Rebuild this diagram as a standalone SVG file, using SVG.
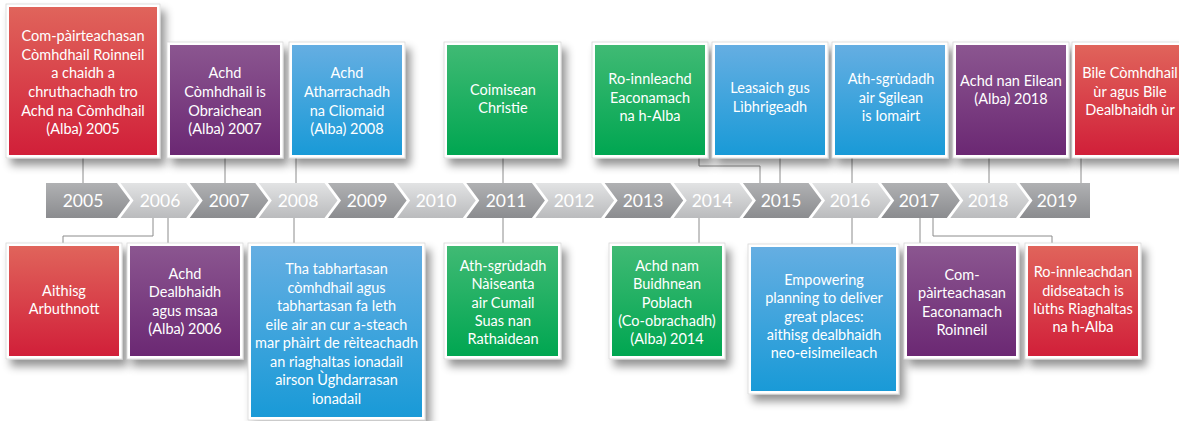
<svg xmlns="http://www.w3.org/2000/svg" width="1179" height="421" viewBox="0 0 1179 421">
<defs>
<linearGradient id="gRed" x1="0" y1="0" x2="0" y2="1"><stop offset="0" stop-color="#e0645b"/><stop offset="1" stop-color="#d11f39"/></linearGradient>
<linearGradient id="gPur" x1="0" y1="0" x2="0" y2="1"><stop offset="0" stop-color="#8b5690"/><stop offset="1" stop-color="#6b2873"/></linearGradient>
<linearGradient id="gBlu" x1="0" y1="0" x2="0" y2="1"><stop offset="0" stop-color="#65aee2"/><stop offset="1" stop-color="#199ad7"/></linearGradient>
<linearGradient id="gGrn" x1="0" y1="0" x2="0" y2="1"><stop offset="0" stop-color="#40ba74"/><stop offset="1" stop-color="#00a651"/></linearGradient>
<linearGradient id="gDark" x1="0" y1="0" x2="0" y2="1"><stop offset="0" stop-color="#b0b1b3"/><stop offset="1" stop-color="#8b8c8f"/></linearGradient>
<linearGradient id="gLight" x1="0" y1="0" x2="0" y2="1"><stop offset="0" stop-color="#e2e3e4"/><stop offset="1" stop-color="#babbbd"/></linearGradient>
<filter id="sh" x="-20%" y="-20%" width="150%" height="150%"><feDropShadow dx="5" dy="7" stdDeviation="4.5" flood-color="#000" flood-opacity="0.42"/></filter>
</defs>
<style>
.frame{fill:#ffffff;stroke:#d8d8d8;stroke-width:0.8;filter:url(#sh)}
.t{font-family:"Lato","Liberation Sans",sans-serif;font-size:14.5px;fill:#ffffff;text-anchor:middle}
.y{font-family:"Lato","Liberation Sans",sans-serif;font-size:17.5px;fill:#ffffff;text-anchor:middle}
.c{fill:none;stroke:#8c8c8c;stroke-width:1}
.dk{fill:url(#gDark)}
.lt{fill:url(#gLight)}
</style>

<g id="connectors">
<path class="c" d="M83 158V183"/>
<path class="c" d="M225 158V183"/>
<path class="c" d="M296 158V183"/>
<path class="c" d="M503 158V183"/>
<path class="c" d="M699 158V166H760V183"/>
<path class="c" d="M780 158V183"/>
<path class="c" d="M852 158V183"/>
<path class="c" d="M989 158V183"/>
<path class="c" d="M1081 158V183"/>
<path class="c" d="M153 218V236H63V243"/>
<path class="c" d="M168 218V243"/>
<path class="c" d="M294 218V243"/>
<path class="c" d="M503 218V243"/>
<path class="c" d="M699 218V243"/>
<path class="c" d="M852 218V244"/>
<path class="c" d="M920 218V243"/>
<path class="c" d="M933 218V236H1052V243"/>
</g>

<g id="timeline">
<polygon class="dk" points="46,183 117,183 130,200.5 117,218 46,218"/>
<polygon class="lt" points="120.5,183 186.2,183 199.2,200.5 186.2,218 120.5,218 133.5,200.5"/>
<polygon class="dk" points="189.7,183 255.3,183 268.3,200.5 255.3,218 189.7,218 202.7,200.5"/>
<polygon class="lt" points="258.8,183 324.5,183 337.5,200.5 324.5,218 258.8,218 271.8,200.5"/>
<polygon class="dk" points="328,183 393.6,183 406.6,200.5 393.6,218 328,218 341,200.5"/>
<polygon class="lt" points="397.1,183 462.8,183 475.8,200.5 462.8,218 397.1,218 410.1,200.5"/>
<polygon class="dk" points="466.3,183 531.9,183 544.9,200.5 531.9,218 466.3,218 479.3,200.5"/>
<polygon class="lt" points="535.4,183 601.1,183 614.1,200.5 601.1,218 535.4,218 548.4,200.5"/>
<polygon class="dk" points="604.6,183 670.2,183 683.2,200.5 670.2,218 604.6,218 617.6,200.5"/>
<polygon class="lt" points="673.7,183 739.4,183 752.4,200.5 739.4,218 673.7,218 686.7,200.5"/>
<polygon class="dk" points="742.9,183 808.5,183 821.5,200.5 808.5,218 742.9,218 755.9,200.5"/>
<polygon class="lt" points="812,183 877.7,183 890.7,200.5 877.7,218 812,218 825,200.5"/>
<polygon class="dk" points="881.2,183 946.8,183 959.8,200.5 946.8,218 881.2,218 894.2,200.5"/>
<polygon class="lt" points="950.3,183 1016,183 1029,200.5 1016,218 950.3,218 963.3,200.5"/>
<polygon class="dk" points="1019.5,183 1090,183 1090,218 1019.5,218 1032.5,200.5"/>
<text class="y" x="83" y="207">2005</text>
<text class="y" x="160" y="207">2006</text>
<text class="y" x="229" y="207">2007</text>
<text class="y" x="298" y="207">2008</text>
<text class="y" x="367" y="207">2009</text>
<text class="y" x="436" y="207">2010</text>
<text class="y" x="506" y="207">2011</text>
<text class="y" x="574" y="207">2012</text>
<text class="y" x="643" y="207">2013</text>
<text class="y" x="712" y="207">2014</text>
<text class="y" x="781" y="207">2015</text>
<text class="y" x="850" y="207">2016</text>
<text class="y" x="919" y="207">2017</text>
<text class="y" x="988" y="207">2018</text>
<text class="y" x="1057" y="207">2019</text>
</g>

<g id="t2005">
<rect class="frame" x="6" y="4" width="154" height="154"/>
<rect x="9" y="7" width="148" height="148" fill="url(#gRed)"/>
<text class="t"><tspan x="83" y="41">Com-pàirteachasan</tspan><tspan x="83" y="60">Còmhdhail Roinneil</tspan><tspan x="83" y="78">a chaidh a</tspan><tspan x="83" y="97">chruthachadh tro</tspan><tspan x="83" y="116">Achd na Còmhdhail</tspan><tspan x="83" y="134">(Alba) 2005</tspan></text>
</g>
<g id="t2007">
<rect class="frame" x="167" y="42" width="116" height="116"/>
<rect x="170" y="45" width="110" height="110" fill="url(#gPur)"/>
<text class="t"><tspan x="225" y="78">Achd</tspan><tspan x="225" y="97">Còmhdhail is</tspan><tspan x="225" y="116">Obraichean</tspan><tspan x="225" y="134">(Alba) 2007</tspan></text>
</g>
<g id="t2008">
<rect class="frame" x="289" y="42" width="116" height="116"/>
<rect x="292" y="45" width="110" height="110" fill="url(#gBlu)"/>
<text class="t"><tspan x="347" y="78">Achd</tspan><tspan x="347" y="97">Atharrachadh</tspan><tspan x="347" y="116">na Cliomaid</tspan><tspan x="347" y="134">(Alba) 2008</tspan></text>
</g>
<g id="t2011">
<rect class="frame" x="444" y="42" width="117" height="116"/>
<rect x="447" y="45" width="111" height="110" fill="url(#gGrn)"/>
<text class="t"><tspan x="503" y="95">Coimisean</tspan><tspan x="503" y="113">Christie</tspan></text>
</g>
<g id="t2014">
<rect class="frame" x="592" y="42" width="116" height="116"/>
<rect x="595" y="45" width="110" height="110" fill="url(#gGrn)"/>
<text class="t"><tspan x="650" y="84">Ro-innleachd</tspan><tspan x="650" y="103">Eaconamach</tspan><tspan x="650" y="121">na h-Alba</tspan></text>
</g>
<g id="t2015">
<rect class="frame" x="712" y="42" width="116" height="116"/>
<rect x="715" y="45" width="110" height="110" fill="url(#gBlu)"/>
<text class="t"><tspan x="770" y="93">Leasaich gus</tspan><tspan x="770" y="112">Lìbhrigeadh</tspan></text>
</g>
<g id="t2016">
<rect class="frame" x="832" y="42" width="116" height="116"/>
<rect x="835" y="45" width="110" height="110" fill="url(#gBlu)"/>
<text class="t"><tspan x="891" y="84">Ath-sgrùdadh</tspan><tspan x="891" y="103">air Sgilean</tspan><tspan x="891" y="121">is Iomairt</tspan></text>
</g>
<g id="t2018">
<rect class="frame" x="953" y="42" width="116" height="116"/>
<rect x="956" y="45" width="110" height="110" fill="url(#gPur)"/>
<text class="t"><tspan x="1011" y="86">Achd nan Eilean</tspan><tspan x="1011" y="104">(Alba) 2018</tspan></text>
</g>
<g id="t2019">
<rect class="frame" x="1072" y="42" width="116" height="116"/>
<rect x="1075" y="45" width="110" height="110" fill="url(#gRed)"/>
<text class="t"><tspan x="1130" y="78">Bile Còmhdhail</tspan><tspan x="1130" y="97">ùr agus Bile</tspan><tspan x="1130" y="115">Dealbhaidh ùr</tspan></text>
</g>

<g id="b2005">
<rect class="frame" x="6" y="243" width="116" height="116"/>
<rect x="9" y="246" width="110" height="110" fill="url(#gRed)"/>
<text class="t"><tspan x="64" y="296">Aithisg</tspan><tspan x="64" y="314">Arbuthnott</tspan></text>
</g>
<g id="b2006">
<rect class="frame" x="127" y="243" width="116" height="116"/>
<rect x="130" y="246" width="110" height="110" fill="url(#gPur)"/>
<text class="t"><tspan x="185" y="279">Achd</tspan><tspan x="185" y="297">Dealbhaidh</tspan><tspan x="185" y="316">agus msaa</tspan><tspan x="185" y="334">(Alba) 2006</tspan></text>
</g>
<g id="b2008">
<rect class="frame" x="248" y="243" width="177" height="177"/>
<rect x="251" y="246" width="171" height="171" fill="url(#gBlu)"/>
<text class="t"><tspan x="336.5" y="274">Tha tabhartasan</tspan><tspan x="336.5" y="293">còmhdhail agus</tspan><tspan x="336.5" y="311">tabhartasan fa leth</tspan><tspan x="336.5" y="330">eile air an cur a-steach</tspan><tspan x="336.5" y="348">mar phàirt de rèiteachadh</tspan><tspan x="336.5" y="367">an riaghaltas ionadail</tspan><tspan x="336.5" y="385">airson Ùghdarrasan</tspan><tspan x="336.5" y="404">ionadail</tspan></text>
</g>
<g id="b2011">
<rect class="frame" x="444" y="243" width="117" height="116"/>
<rect x="447" y="246" width="111" height="110" fill="url(#gGrn)"/>
<text class="t"><tspan x="503" y="271">Ath-sgrùdadh</tspan><tspan x="503" y="289">Nàiseanta</tspan><tspan x="503" y="308">air Cumail</tspan><tspan x="503" y="326">Suas nan</tspan><tspan x="503" y="344">Rathaidean</tspan></text>
</g>
<g id="b2014">
<rect class="frame" x="609" y="243" width="116" height="116"/>
<rect x="612" y="246" width="110" height="110" fill="url(#gGrn)"/>
<text class="t"><tspan x="667" y="271">Achd nam</tspan><tspan x="667" y="289">Buidhnean</tspan><tspan x="667" y="308">Poblach</tspan><tspan x="667" y="326">(Co-obrachadh)</tspan><tspan x="667" y="344">(Alba) 2014</tspan></text>
</g>
<g id="b2016">
<rect class="frame" x="748" y="244" width="151" height="150"/>
<rect x="751" y="247" width="145" height="144" fill="url(#gBlu)"/>
<text class="t"><tspan x="824" y="285">Empowering</tspan><tspan x="824" y="303">planning to deliver</tspan><tspan x="824" y="322">great places:</tspan><tspan x="824" y="340">aithisg dealbhaidh</tspan><tspan x="824" y="358">neo-eisimeileach</tspan></text>
</g>
<g id="b2017a">
<rect class="frame" x="904" y="243" width="115" height="116"/>
<rect x="907" y="246" width="109" height="110" fill="url(#gPur)"/>
<text class="t"><tspan x="962" y="280">Com-</tspan><tspan x="962" y="298">pàirteachasan</tspan><tspan x="962" y="317">Eaconamach</tspan><tspan x="962" y="335">Roinneil</tspan></text>
</g>
<g id="b2017b">
<rect class="frame" x="1025" y="243" width="116" height="116"/>
<rect x="1028" y="246" width="110" height="110" fill="url(#gRed)"/>
<text class="t"><tspan x="1083" y="277">Ro-innleachdan</tspan><tspan x="1083" y="296">didseatach is</tspan><tspan x="1083" y="314">lùths Riaghaltas</tspan><tspan x="1083" y="332">na h-Alba</tspan></text>
</g>
</svg>
